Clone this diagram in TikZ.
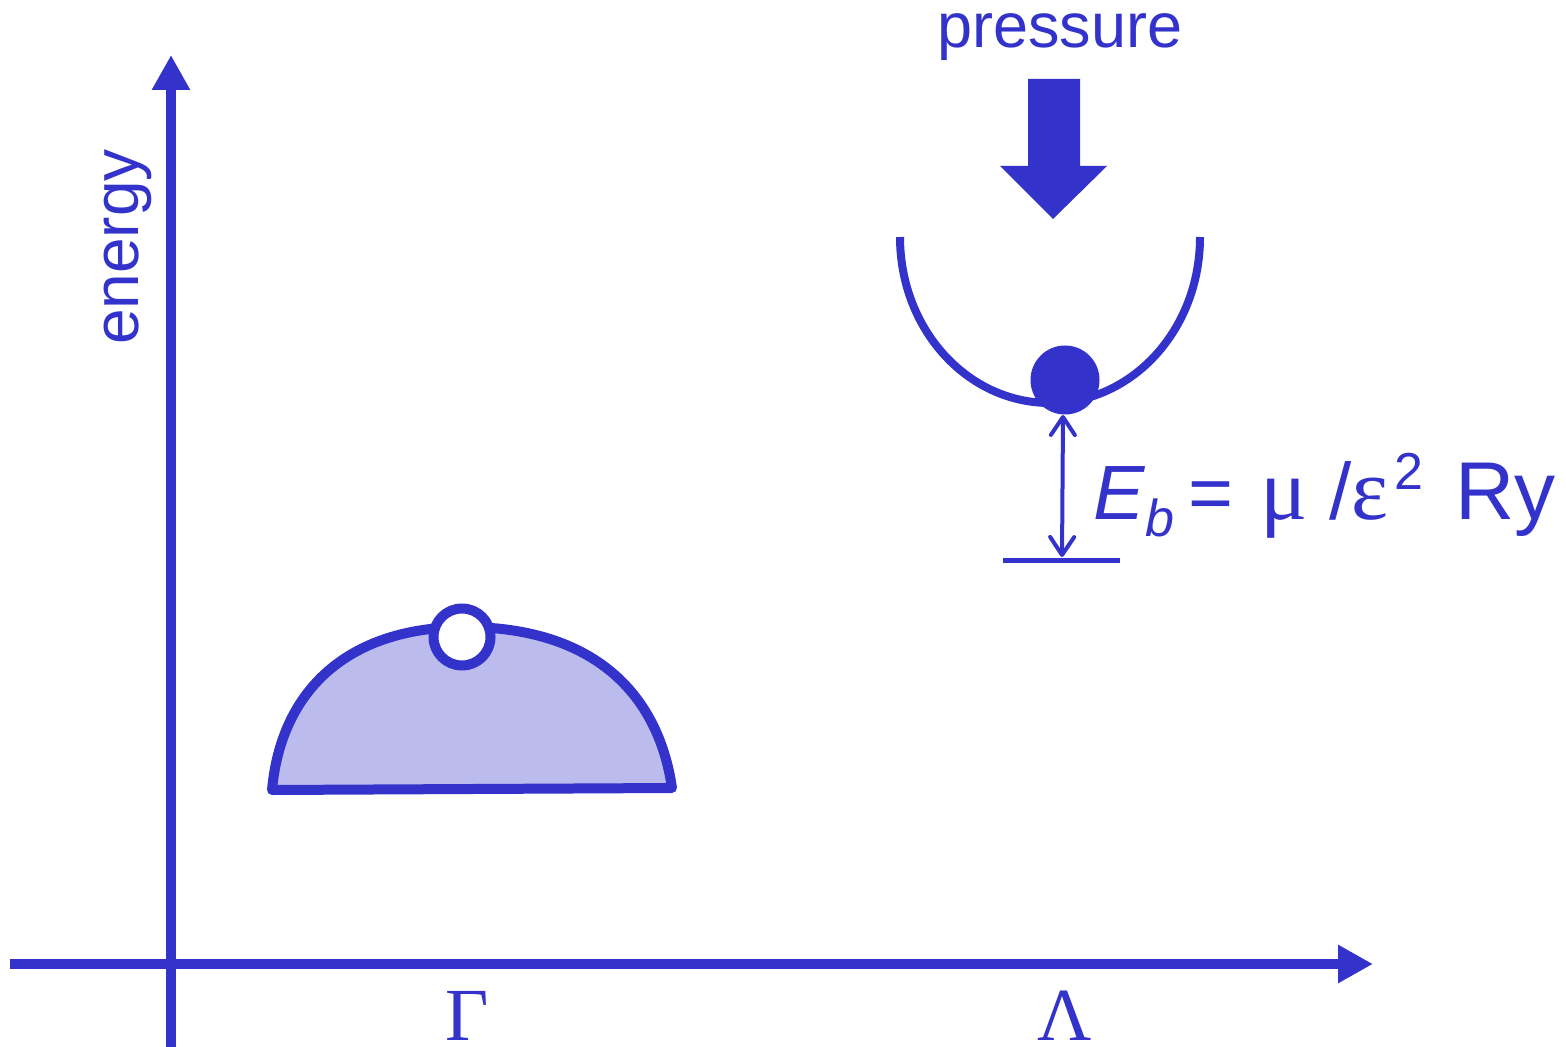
\documentclass[tikz,border=0pt]{standalone}
\usepackage{fontspec}
\setmainfont{Liberation Sans}
\newfontfamily\serifgreek{Liberation Serif}
\usetikzlibrary{arrows.meta}
\definecolor{ink}{RGB}{51,51,204}
\definecolor{domefill}{RGB}{187,187,238}
\tikzset{barbtip/.tip={Straight Barb[length=9pt,width=12pt,line cap=round,line join=round]}}
\begin{document}
\begin{tikzpicture}[x=0.5pt,y=-0.5pt,
  axisline/.style={draw=ink, line width=5pt, -{Triangle[length=17.5pt,width=18pt]}},
  outline/.style={draw=ink, fill=domefill, line width=5pt, line join=round, line cap=round},
  bowlline/.style={draw=ink, line width=4pt},
  thinline/.style={draw=ink, line width=2pt},
  levelline/.style={draw=ink, line width=2.5pt},
  ballnode/.style={circle, fill=ink, minimum size=34.5pt, inner sep=0pt},
  holenode/.style={circle, draw=ink, fill=white, line width=5pt, minimum size=28.5pt, inner sep=0pt},
  lbl/.style={text=ink, inner sep=0pt}
]
\useasboundingbox (0,0) rectangle (1566,1047);

% axes
\coordinate (yfoot) at (171,1047);
\coordinate (ytip) at (171,55);
\coordinate (xfoot) at (10,964);
\coordinate (xtip) at (1373,964);
\draw[axisline] (yfoot) -- (ytip);
\draw[axisline] (xfoot) -- (xtip);

% axis labels
\node[lbl, anchor=base, rotate=90, font=\fontsize{32}{32}\selectfont] (energy) at (138,247) {energy};
\node[lbl, anchor=base, font=\serifgreek\fontsize{37.5}{37.5}\selectfont] (gamma) at (467,1040) {Γ};
\node[lbl, anchor=base, font=\serifgreek\fontsize{37.5}{37.5}\selectfont] (lambda) at (1065,1040) {Λ};

% dome
\draw[outline] (272,790) .. controls (281,691) and (347,627) .. (465,627)
  .. controls (592,627) and (658,692) .. (672,788) -- cycle;
\node[holenode] (hole) at (462,637) {};

% pressure
\node[lbl, anchor=base, font=\fontsize{31.5}{31.5}\selectfont] (pressure) at (1060,48) {pressure};
\fill[ink] (1028,79) -- (1080,79) -- (1080,166) -- (1107,166) -- (1053,219) -- (1000,166) -- (1028,166) -- cycle;

% bowl
\draw[bowlline] (900,237) .. controls (900,329) and (967,403) .. (1050,403)
  .. controls (1133,403) and (1200,329) .. (1200,237);
\node[ballnode] (ball) at (1065,380) {};

% binding energy
\coordinate (ebtop) at (1063,415);
\coordinate (ebbot) at (1062,557);
\coordinate (lvlL) at (1003,560);
\coordinate (lvlR) at (1120,560);
\draw[levelline] (lvlL) -- (lvlR);
\draw[thinline, barbtip-barbtip] (ebtop) -- (ebbot);

\node[lbl, anchor=base west, font=\fontsize{38.5}{38.5}\selectfont] (eb) at (1093,519)
  {\textit{E}\raisebox{-8.5pt}{\fontsize{26}{26}\selectfont\textit{b}}\hspace{7pt}=\hspace{13.5pt}{\serifgreek\fontsize{44}{44}\selectfont μ}\hspace{11pt}{\fontsize{40}{40}\selectfont/}{\serifgreek\fontsize{44}{44}\selectfont ε}\hspace{3pt}\raisebox{15pt}{\fontsize{26}{26}\selectfont 2}\hspace{16pt}{\fontsize{41}{41}\selectfont Ry}};
\end{tikzpicture}
\end{document}
